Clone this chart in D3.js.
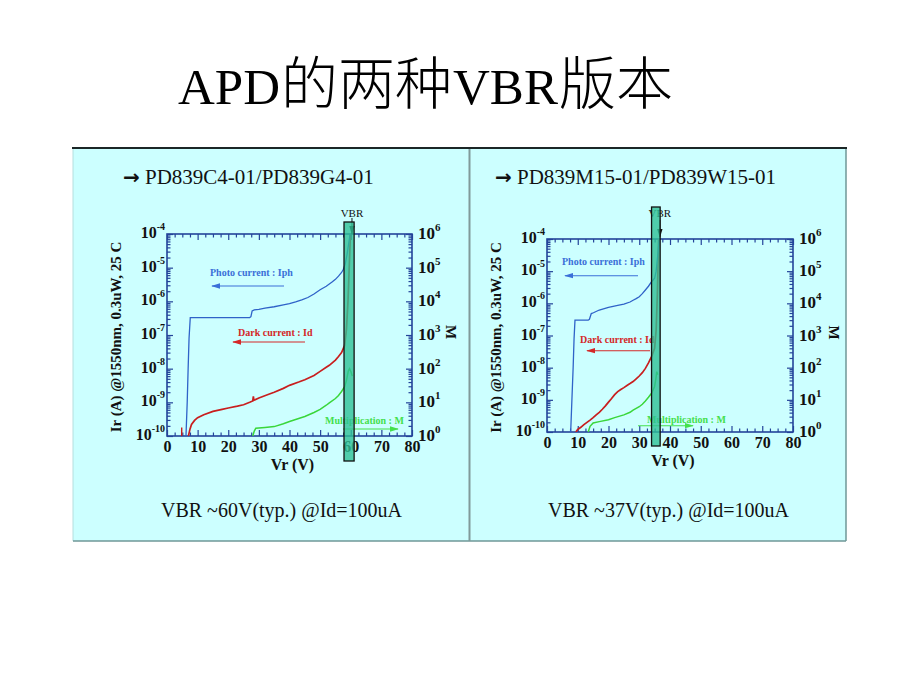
<!DOCTYPE html>
<html>
<head>
<meta charset="utf-8">
<script src="https://cdn.jsdelivr.net/npm/d3@7"></script>
<style>
body{margin:0;background:#fff;}
svg{display:block;}
</style>
</head>
<body>
<svg width="920" height="690"></svg>
<script>
// values
var titleLatin1="APD", titleCjk1="的两种", titleLatin2="VBR", titleCjk2="版本";
var panelTitles=["PD839C4-01/PD839G4-01","PD839M15-01/PD839W15-01"];
var vbrNotes=["VBR ~60V(typ.) @Id=100uA","VBR ~37V(typ.) @Id=100uA"];
var xTicks=[0,10,20,30,40,50,60,70,80];
var currentExp=[-10,-9,-8,-7,-6,-5,-4];
var gainExp=[0,1,2,3,4,5,6];
var vbrBand=[[57.8,61.1],[34.0,36.8]];
var vbrMark=[60.4,36.7];

// PD839C4-01 : [Vr, Ir]
var photoC4=[[6.2,1e-10],[6.6,1e-9],[6.9,1e-8],[7.2,8e-8],[7.6,3.3e-7],[15,3.3e-7],[27.0,3.3e-7],[27.4,3.5e-7],[27.8,5.2e-7],[28.5,5.6e-7],[30,5.8e-7],[32,6.3e-7],[35,6.9e-7],[38,7.8e-7],[40,8.5e-7],[42,9.6e-7],[44,1.1e-6],[46,1.3e-6],[48,1.65e-6],[50,2.2e-6],[52,2.8e-6],[54,3.8e-6],[55,4.5e-6],[56,5.6e-6],[57,7.2e-6],[57.6,9e-6],[58.2,1.3e-5],[58.8,2.5e-5],[59.3,5e-5],[59.8,1e-4]];
var darkC4=[[7.0,1e-10],[7.5,1.6e-10],[8,2.2e-10],[9,2.9e-10],[10,3.5e-10],[12,4.3e-10],[15,5.4e-10],[18,6.2e-10],[20,6.8e-10],[23,7.7e-10],[25,8.5e-10],[27,1.0e-9],[28,1.1e-9],[28.2,1.5e-9],[28.4,1.15e-9],[30,1.35e-9],[33,1.7e-9],[35,2.0e-9],[38,2.6e-9],[40,3.2e-9],[43,4.0e-9],[45,4.7e-9],[48,6.3e-9],[50,8.3e-9],[52,1.1e-8],[53,1.26e-8],[55,1.8e-8],[56,2.3e-8],[57,3e-8],[58,4.9e-8],[58.6,1.5e-7],[59.1,1e-6],[59.5,1e-5],[59.9,1e-4]];
var darkBlipC4=[[4.8,1e-10],[4.8,1.8e-10]];
// PD839C4-01 : [Vr, M]
var gainC4=[[28,1],[28.5,1.4],[29,1.7],[32,1.8],[35,1.9],[38,2.3],[40,2.7],[43,3.3],[45,3.8],[48,5.0],[50,6.2],[52,8.2],[53,9.6],[55,13],[56,16],[57,21],[58,29],[58.6,45],[59.2,85],[59.6,100],[60.1,80],[60.5,60]];

// PD839M15-01 : [Vr, Ir]
var photoM15=[[7.7,1e-10],[8.1,1e-9],[8.5,1e-8],[8.8,8e-8],[9.1,3e-7],[13.4,3e-7],[13.8,3.2e-7],[14.4,4.8e-7],[15.1,5.1e-7],[17,6.2e-7],[20,7.5e-7],[23,8.6e-7],[25,9.5e-7],[27,1.1e-6],[28,1.25e-6],[29,1.4e-6],[30,1.6e-6],[31,2.0e-6],[32,2.6e-6],[33,3.4e-6],[34,4.7e-6],[35,6e-6],[35.5,1e-5],[36,3e-5],[36.5,1e-4]];
var darkM15=[[9.4,1e-10],[10,1.2e-10],[11,1.4e-10],[12,1.7e-10],[13,2.0e-10],[14,2.35e-10],[15,2.8e-10],[16,3.4e-10],[17,4.1e-10],[18,5.1e-10],[19,6.5e-10],[20,8.5e-10],[21,1.1e-9],[22,1.45e-9],[23,1.8e-9],[24,2.1e-9],[25,2.4e-9],[26,2.8e-9],[27,3.2e-9],[28,3.7e-9],[29,4.5e-9],[30,5.5e-9],[31,7e-9],[32,9.5e-9],[33,1.4e-8],[34,2.2e-8],[35,4e-8],[35.5,1.5e-7],[35.9,2e-6],[36.3,1e-4]];
// PD839M15-01 : [Vr, M]
var gainM15=[[13.4,1],[14,1.5],[15,1.9],[17,2.1],[20,2.4],[22,2.8],[25,3.4],[27,4.1],[28,4.8],[30,6.1],[31,7.3],[32,9.2],[33,12],[34,16],[35,26],[35.4,45],[35.7,75],[36.0,60]];

var serif='"Liberation Serif","Times New Roman",serif';
var frameColor="#24449a";
var colors={photo:"#2f62c8",dark:"#c81e1e",gain:"#3ad63a"};
var labelColors={photo:"#3a6fd8",dark:"#d42828",gain:"#44e04c"};

var svg=d3.select("svg");

// arrow heads
var defs=svg.append("defs");
[["photo",labelColors.photo],["dark",labelColors.dark],["gain",labelColors.gain],["vbr","#111"]].forEach(function(m){
  defs.append("marker")
      .attr("id","arr-"+m[0])
      .attr("viewBox","0 0 10 6")
      .attr("refX",9).attr("refY",3)
      .attr("markerUnits","userSpaceOnUse")
      .attr("markerWidth",9).attr("markerHeight",6)
      .attr("orient","auto")
    .append("path")
      .attr("d","M0,0 L10,3 L0,6 Z")
      .attr("fill",m[1]);
});

// page title
var cjk='"Noto Sans CJK SC",sans-serif';
var title=svg.append("text")
   .attr("x",178).attr("y",104)
   .attr("fill","#000");
title.append("tspan").attr("font-family",serif).attr("font-size",51).text(titleLatin1);
title.append("tspan").attr("font-family",cjk).attr("font-weight",300).attr("font-size",57).attr("dx",1).text(titleCjk1);
title.append("tspan").attr("font-family",serif).attr("font-size",51).attr("dx",1).text(titleLatin2);
title.append("tspan").attr("font-family",cjk).attr("font-weight",300).attr("font-size",57).attr("dx",1).text(titleCjk2);

// slide panel
svg.append("rect").attr("x",73).attr("y",148).attr("width",773).attr("height",393).attr("fill","#ccffff");
svg.append("line").attr("x1",73).attr("x2",73).attr("y1",148).attr("y2",541).attr("stroke","#b4dede").attr("stroke-width",1);
svg.append("line").attr("x1",846).attr("x2",846).attr("y1",148).attr("y2",541).attr("stroke","#6f9797").attr("stroke-width",1.5);
svg.append("line").attr("x1",73).attr("x2",846).attr("y1",541).attr("y2",541).attr("stroke","#6f9797").attr("stroke-width",1.5);
svg.append("line").attr("x1",469.5).attr("x2",469.5).attr("y1",148).attr("y2",541).attr("stroke","#809a9a").attr("stroke-width",2);
svg.append("line").attr("x1",72).attr("x2",847).attr("y1",148).attr("y2",148).attr("stroke","#1b2626").attr("stroke-width",2);

var panels=[
  {box:{x0:167,x1:412,y0:234,y1:436}, titleX:123, noteX:161,
   photo:photoC4, dark:darkC4, blips:[darkBlipC4], gain:gainC4, band:vbrBand[0], mark:vbrMark[0],
   bandTop:-12, bandBot:25, vbrLabelDy:-17, vbrLine:[-16,0],
   notes:{photo:[43,42,117,45,52], dark:[71,102,138,66,108], gain:[158,189.5,176,231,195]},
   yTitleX:121, mX:446},
  {box:{x0:547,x1:793,y0:239,y1:432}, titleX:495, noteX:548,
   photo:photoM15, dark:darkM15, blips:[], gain:gainM15, band:vbrBand[1], mark:vbrMark[1],
   bandTop:-32, bandBot:14, vbrLabelDy:-22, vbrLine:[-19,-2],
   notes:{photo:[15,26,91,18,36.7], dark:[33,104,103,40,111.7], gain:[100,183.5,91,146,186.7]},
   yTitleX:501, mX:829}
];

panels.forEach(function(p,i){ drawPanel(p,i); });

function drawPanel(p,i){
  var b=p.box;
  var x=d3.scaleLinear().domain([0,80]).range([b.x0,b.x1]);
  var yI=d3.scaleLog().domain([1e-10,1e-4]).range([b.y1,b.y0]);
  var yM=d3.scaleLog().domain([1,1e6]).range([b.y1,b.y0]);
  var g=svg.append("g");

  // heading and footnote
  var head=g.append("text").attr("x",p.titleX).attr("y",184).attr("fill","#111");
  head.append("tspan").attr("font-family",'"DejaVu Sans",sans-serif').attr("font-size",20).attr("font-weight","bold").text("\u2192");
  head.append("tspan").attr("font-family",serif).attr("font-size",21).text(" "+panelTitles[i]);
  g.append("text").attr("x",p.noteX).attr("y",517)
   .attr("font-family",serif).attr("font-size",20).attr("fill","#111")
   .text(vbrNotes[i]);

  // axes
  var minorX=d3.range(0,80.01,2.5).filter(function(v){ return v%10!==0; });
  var decI=currentExp.map(function(e){ return Math.pow(10,e); });
  var decM=gainExp.map(function(e){ return Math.pow(10,e); });
  var minorI=[], minorM=[];
  decI.slice(0,-1).forEach(function(d){ for(var m=2;m<10;m++) minorI.push(d*m); });
  decM.slice(0,-1).forEach(function(d){ for(var m=2;m<10;m++) minorM.push(d*m); });

  var axes=[
    [d3.axisBottom(x).tickValues(xTicks).tickSizeInner(-6).tickPadding(5).tickFormat(d3.format("d")),"translate(0,"+b.y1+")"],
    [d3.axisBottom(x).tickValues(minorX).tickSizeInner(-3.5).tickFormat(""),"translate(0,"+b.y1+")"],
    [d3.axisTop(x).tickValues(xTicks).tickSizeInner(-6).tickFormat(""),"translate(0,"+b.y0+")"],
    [d3.axisTop(x).tickValues(minorX).tickSizeInner(-3.5).tickFormat(""),"translate(0,"+b.y0+")"],
    [d3.axisLeft(yI).tickValues(decI).tickSizeInner(-6).tickFormat(""),"translate("+b.x0+",0)"],
    [d3.axisLeft(yI).tickValues(minorI).tickSizeInner(-3.5).tickFormat(""),"translate("+b.x0+",0)"],
    [d3.axisRight(yM).tickValues(decM).tickSizeInner(-6).tickFormat(""),"translate("+b.x1+",0)"],
    [d3.axisRight(yM).tickValues(minorM).tickSizeInner(-3.5).tickFormat(""),"translate("+b.x1+",0)"]
  ];
  axes.forEach(function(a){
    var ag=g.append("g").attr("transform",a[1]).call(a[0].tickSizeOuter(0));
    ag.select(".domain").remove();
    ag.selectAll(".tick line").attr("stroke",frameColor).attr("stroke-width",1.2);
    ag.selectAll(".tick text").attr("font-family",serif).attr("font-size",16)
      .attr("font-weight","bold").attr("fill","#111");
  });
  g.append("rect").attr("x",b.x0).attr("y",b.y0)
   .attr("width",b.x1-b.x0).attr("height",b.y1-b.y0)
   .attr("fill","none").attr("stroke",frameColor).attr("stroke-width",1.6);

  // power-of-ten labels
  var left=g.selectAll("text.yl").data(currentExp).enter().append("text")
     .attr("class","yl").attr("x",b.x0-2).attr("y",function(e){ return yI(Math.pow(10,e))+4; })
     .attr("text-anchor","end").attr("font-family",serif).attr("font-weight","bold").attr("fill","#111");
  left.append("tspan").attr("font-size",16).text("10");
  left.append("tspan").attr("font-size",10).attr("dy",-8).text(function(e){ return e; });

  var right=g.selectAll("text.yr").data(gainExp).enter().append("text")
     .attr("class","yr").attr("x",b.x1+6).attr("y",function(e){ return yM(Math.pow(10,e))+5; })
     .attr("font-family",serif).attr("font-weight","bold").attr("fill","#111");
  right.append("tspan").attr("font-size",17).text("10");
  right.append("tspan").attr("font-size",11).attr("dy",-8).text(function(e){ return e; });

  // axis titles
  g.append("text").attr("x",(b.x0+b.x1)/2+3).attr("y",b.y1+34)
   .attr("text-anchor","middle").attr("font-family",serif).attr("font-size",16)
   .attr("font-weight","bold").attr("fill","#111").text("Vr (V)");
  g.append("text").attr("transform","translate("+p.yTitleX+","+((b.y0+b.y1)/2+2)+") rotate(-90)")
   .attr("text-anchor","middle").attr("font-family",serif).attr("font-size",15)
   .attr("font-weight","bold").attr("fill","#111").text("Ir (A) @1550nm, 0.3uW, 25 C");
  g.append("text").attr("transform","translate("+p.mX+","+((b.y0+b.y1)/2-3)+") rotate(90)")
   .attr("text-anchor","middle").attr("font-family",serif).attr("font-size",15)
   .attr("font-weight","bold").attr("fill","#111").text("M");

  // curves
  var clipId="clip"+i;
  defs.append("clipPath").attr("id",clipId).append("rect")
      .attr("x",b.x0).attr("y",b.y0-1).attr("width",b.x1-b.x0).attr("height",b.y1-b.y0+1);
  var plot=g.append("g").attr("clip-path","url(#"+clipId+")");
  var lineI=d3.line().x(function(d){ return x(d[0]); }).y(function(d){ return yI(d[1]); });
  var lineM=d3.line().x(function(d){ return x(d[0]); }).y(function(d){ return yM(d[1]); });

  plot.append("path").datum(p.gain).attr("d",lineM)
      .attr("fill","none").attr("stroke",colors.gain).attr("stroke-width",1.5);
  plot.append("path").datum(p.dark).attr("d",lineI)
      .attr("fill","none").attr("stroke",colors.dark).attr("stroke-width",1.7);
  p.blips.forEach(function(s){
    plot.append("path").datum(s).attr("d",lineI)
        .attr("fill","none").attr("stroke",colors.dark).attr("stroke-width",1.4);
  });
  plot.append("path").datum(p.photo).attr("d",lineI)
      .attr("fill","none").attr("stroke",colors.photo).attr("stroke-width",1.3);

  // curve captions with arrows
  var captions={photo:"Photo current : Iph",dark:"Dark current : Id",gain:"Multiplication : M"};
  ["photo","dark","gain"].forEach(function(k){
    var n=p.notes[k];
    g.append("text").attr("x",b.x0+n[0]).attr("y",b.y0+n[1])
     .attr("font-family",serif).attr("font-size",10).attr("font-weight","bold")
     .attr("fill",labelColors[k]).text(captions[k]);
    g.append("line").attr("x1",b.x0+n[2]).attr("x2",b.x0+n[3])
     .attr("y1",b.y0+n[4]).attr("y2",b.y0+n[4])
     .attr("stroke",labelColors[k]).attr("stroke-width",1.1)
     .attr("marker-end","url(#arr-"+k+")");
  });

  // VBR marker
  var xm=x(p.mark);
  g.append("text").attr("x",xm).attr("y",b.y0+p.vbrLabelDy)
   .attr("text-anchor","middle").attr("font-family",serif).attr("font-size",11)
   .attr("fill","#111").text("VBR");
  g.append("line").attr("x1",xm).attr("x2",xm)
   .attr("y1",b.y0+p.vbrLine[0]).attr("y2",b.y0+p.vbrLine[1])
   .attr("stroke","#111").attr("stroke-width",1)
   .attr("marker-end","url(#arr-vbr)");
  g.append("rect").attr("x",x(p.band[0])).attr("y",b.y0+p.bandTop)
   .attr("width",x(p.band[1])-x(p.band[0])).attr("height",(b.y1+p.bandBot)-(b.y0+p.bandTop))
   .attr("fill","#2fc096").attr("fill-opacity",0.8)
   .attr("stroke","#111").attr("stroke-width",1.3);
}
</script>
</body>
</html>
